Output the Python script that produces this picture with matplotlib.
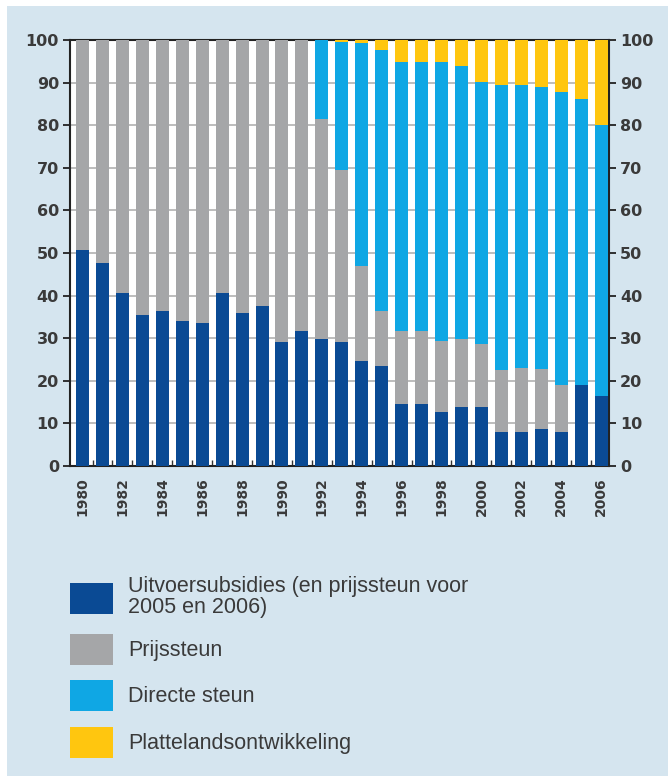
import matplotlib

matplotlib.use("Agg")
import matplotlib.pyplot as plt
import numpy as np
from matplotlib.patches import Rectangle

# Share of each support type in total CAP spending (%)
years = list(range(1980, 2007))
uitvoer = [50.6, 47.7, 40.5, 35.4, 36.4, 34.1, 33.5, 40.5, 35.8, 37.6, 29.2, 31.6,
           29.7, 29.2, 24.6, 23.4, 14.5, 14.5, 12.7, 13.9, 13.9, 8.0, 8.0, 8.6,
           8.0, 19.1, 16.4]
prijssteun = [49.4, 52.3, 59.5, 64.6, 63.6, 65.9, 66.5, 59.5, 64.2, 62.4, 70.8, 68.4,
              51.7, 40.3, 22.3, 12.9, 17.1, 17.1, 16.6, 15.8, 14.8, 14.5, 15.0, 14.1,
              11.1, 0.0, 0.0]
directe = [0, 0, 0, 0, 0, 0, 0, 0, 0, 0, 0, 0,
           18.6, 30.0, 52.3, 61.4, 63.3, 63.3, 65.6, 64.1, 61.5, 67.0, 66.5, 66.2,
           68.8, 67.1, 63.7]
platteland = [0, 0, 0, 0, 0, 0, 0, 0, 0, 0, 0, 0,
              0, 0.5, 0.8, 2.3, 5.1, 5.1, 5.1, 6.2, 9.8, 10.5, 10.5, 11.1,
              12.1, 13.8, 19.9]

series = [
    ("Uitvoersubsidies (en prijssteun voor\n2005 en 2006)", uitvoer, "#0a4a94"),
    ("Prijssteun", prijssteun, "#a5a6a8"),
    ("Directe steun", directe, "#0fa7e4"),
    ("Plattelandsontwikkeling", platteland, "#ffc60f"),
]

BG = "#d5e5ef"
TXT = "#3a3a3a"

W, H = 668, 776
fig = plt.figure(figsize=(W / 100, H / 100), dpi=100, facecolor="white")
# light blue panel with a thin white margin left and top
fig.patches.append(Rectangle((7 / W, 0), 1, 1 - 6 / H, transform=fig.transFigure,
                             facecolor=BG, edgecolor="none", zorder=-10))

ax = fig.add_axes([70 / W, 1 - 466 / H, (609 - 70) / W, (466 - 40) / H])
ax.set_facecolor("white")

x = np.arange(len(years))
bottom = np.zeros(len(years))
for label, vals, color in series:
    vals = np.array(vals)
    ax.bar(x, vals, width=0.65, bottom=bottom, color=color, label=label, zorder=3)
    bottom += vals

ax.set_xlim(-0.63, 26.4)
ax.set_ylim(0, 100)
ax.set_yticks(range(0, 101, 10))
ax.grid(axis="y", color="#b8b8b8", lw=1.3, zorder=1)

for s in ax.spines.values():
    s.set_color("#222222")
    s.set_linewidth(1.5)

ax.tick_params(axis="y", which="both", left=True, right=True, labelleft=True,
               labelright=True, direction="out", length=5, width=1.3,
               color="#222222", labelsize=11.5, labelcolor=TXT, pad=3)
for t in ax.get_yticklabels():
    t.set_fontweight("semibold")

ax.set_xticks(x[::2])
ax.set_xticklabels([str(y) for y in years[::2]], rotation=90, fontsize=10,
                   color=TXT, fontweight="semibold")
ax.set_xticks(x[:-1] + 0.5, minor=True)
ax.tick_params(axis="x", which="major", length=0, pad=8)
ax.tick_params(axis="x", which="minor", direction="in", length=4, width=1.0,
               color="#333333")

handles, labels = ax.get_legend_handles_labels()
fs = 15.5
leg = fig.legend(handles, labels, loc="upper left", bbox_to_anchor=(70 / W, 1 - 576 / H),
                 frameon=False, borderpad=0, borderaxespad=0,
                 prop={"family": "Liberation Sans", "size": fs},
                 handlelength=2.0, handleheight=1.84, labelspacing=0.72,
                 handletextpad=0.7, labelcolor=TXT)
for t in leg.get_texts():
    t.set_linespacing(1.0)

fig.savefig("out.png", dpi=100, facecolor=fig.get_facecolor())
